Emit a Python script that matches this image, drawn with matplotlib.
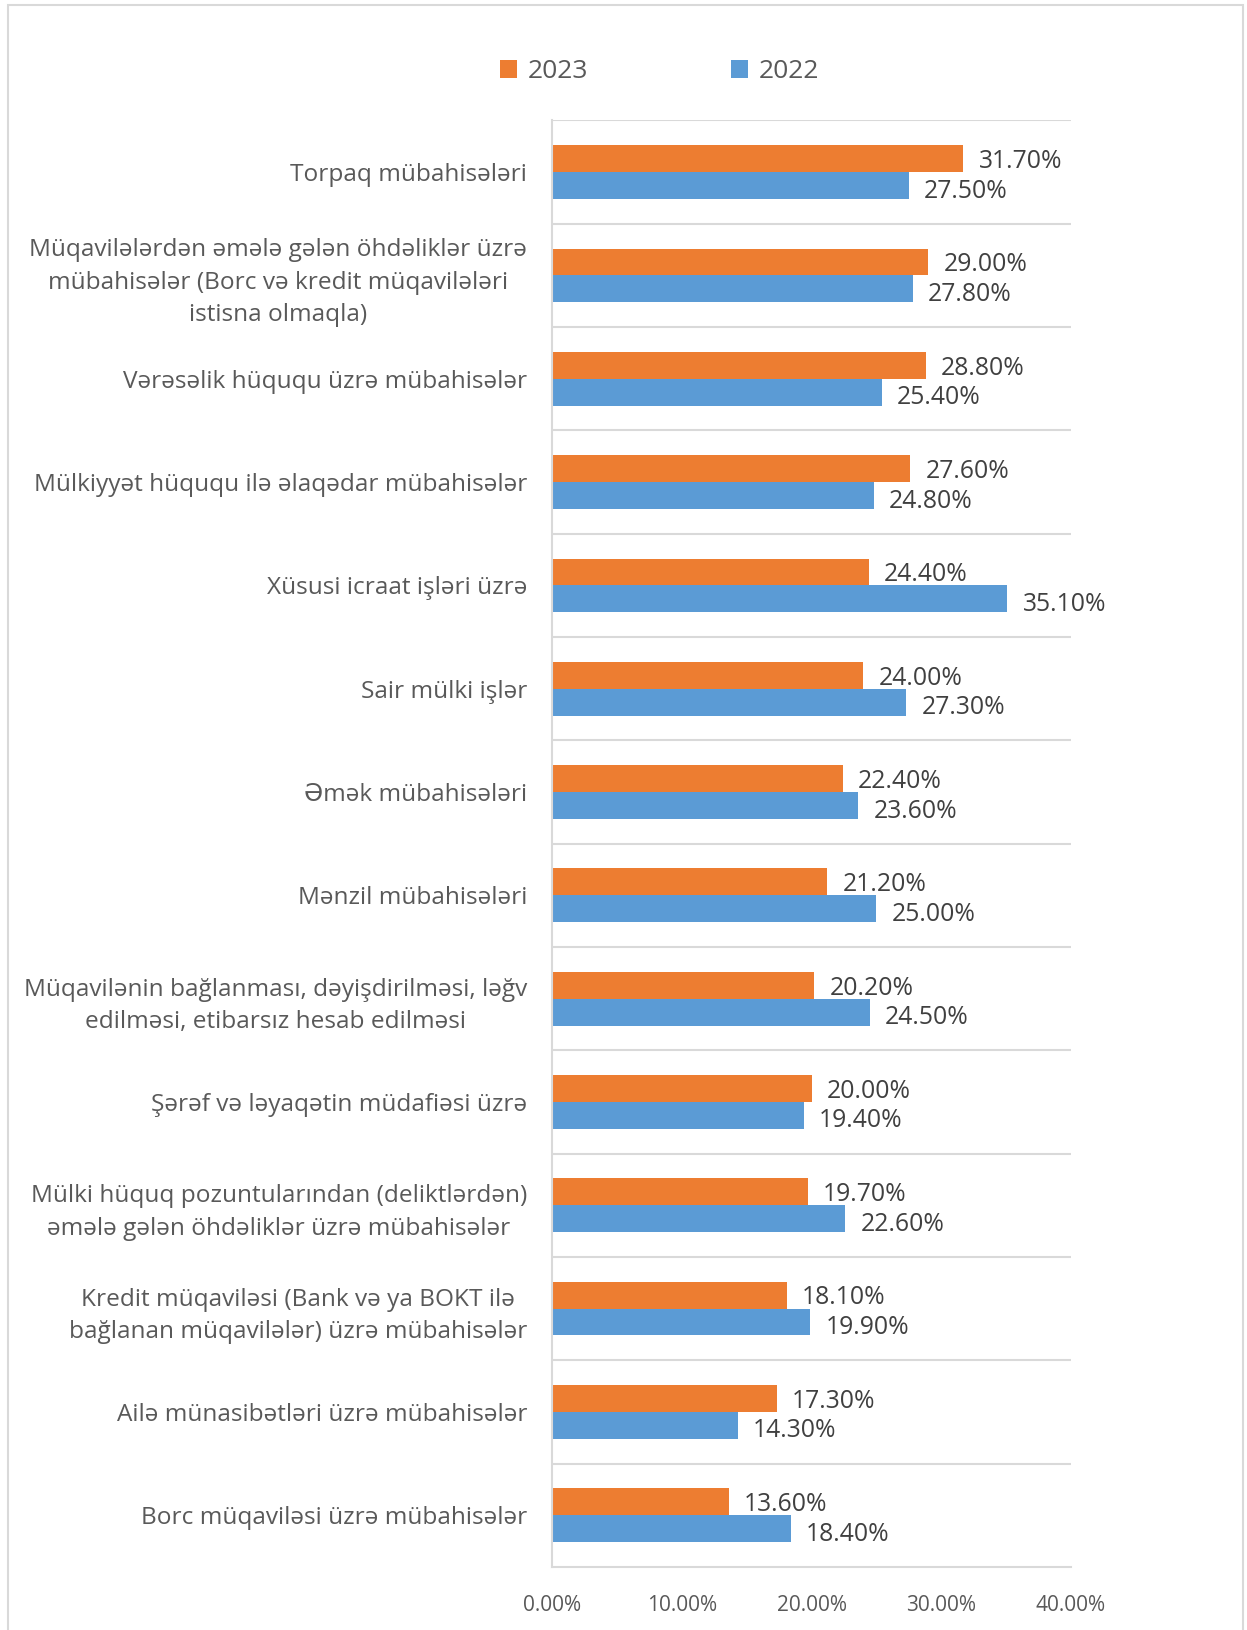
import matplotlib.pyplot as plt
from matplotlib.patches import Rectangle
from matplotlib.ticker import FuncFormatter

plt.rcParams['font.family'] = ['Open Sans', 'DejaVu Sans']

# Categories, top to bottom
categories = [
    'Torpaq mübahisələri',
    'Müqavilələrdən əmələ gələn öhdəliklər üzrə\nmübahisələr (Borc və kredit müqavilələri\nistisna olmaqla)',
    'Vərəsəlik hüququ üzrə mübahisələr',
    'Mülkiyyət hüququ ilə əlaqədar mübahisələr',
    'Xüsusi icraat işləri üzrə',
    'Sair mülki işlər',
    'Əmək mübahisələri',
    'Mənzil mübahisələri',
    'Müqavilənin bağlanması, dəyişdirilməsi, ləğv\nedilməsi, etibarsız hesab edilməsi',
    'Şərəf və ləyaqətin müdafiəsi üzrə',
    'Mülki hüquq pozuntularından (deliktlərdən)\nəmələ gələn öhdəliklər üzrə mübahisələr',
    'Kredit müqaviləsi (Bank və ya BOKT ilə\nbağlanan müqavilələr) üzrə mübahisələr',
    'Ailə münasibətləri üzrə mübahisələr',
    'Borc müqaviləsi üzrə mübahisələr',
]
values_2023 = [31.7, 29.0, 28.8, 27.6, 24.4, 24.0, 22.4, 21.2, 20.2, 20.0, 19.7, 18.1, 17.3, 13.6]
values_2022 = [27.5, 27.8, 25.4, 24.8, 35.1, 27.3, 23.6, 25.0, 24.5, 19.4, 22.6, 19.9, 14.3, 18.4]
x_ticks = [0, 10, 20, 30, 40]

orange = '#ED7D31'
blue = '#5B9BD5'
text_col = '#595959'
grid_col = '#D9D9D9'

fig = plt.figure(figsize=(12.47, 16.30), dpi=100)
ax = fig.add_axes([0.4427, 0.0387, 0.4162, 0.8874])

pos = list(range(len(categories)))
h = 0.26
b1 = ax.barh([p - h / 2 for p in pos], values_2023, height=h, color=orange, label='2023')
b2 = ax.barh([p + h / 2 for p in pos], values_2022, height=h, color=blue, label='2022')

for rect, v in zip(b1, values_2023):
    ax.annotate(f'{v:.2f}%', (rect.get_width(), rect.get_y() + rect.get_height() / 2),
                xytext=(11, -2), textcoords='offset points', va='center', ha='left',
                fontsize=17.8, color='#404040')
for rect, v in zip(b2, values_2022):
    ax.annotate(f'{v:.2f}%', (rect.get_width(), rect.get_y() + rect.get_height() / 2),
                xytext=(11, -4), textcoords='offset points', va='center', ha='left',
                fontsize=17.8, color='#404040')

ax.set_ylim(len(categories) - 0.5, -0.5)
ax.set_xlim(0, 40)
ax.set_yticks(pos)
ax.set_yticklabels(categories, fontsize=17.6, color=text_col, multialignment='center')
for lbl in ax.get_yticklabels():
    lbl.set_linespacing(1.47)
ax.set_xticks(x_ticks)
ax.xaxis.set_major_formatter(FuncFormatter(lambda v, _: f'{v:.2f}%'))
ax.tick_params(axis='x', length=0, pad=20, labelsize=15, labelcolor=text_col)
ax.tick_params(axis='y', length=0, pad=18)

# separators between categories
ax.set_yticks([p - 0.5 for p in pos], minor=True)
ax.tick_params(axis='y', which='minor', length=0)
ax.grid(axis='y', which='minor', color=grid_col, linewidth=1.5)
ax.set_axisbelow(True)

for s in ['top', 'right']:
    ax.spines[s].set_visible(False)
for s in ['left', 'bottom']:
    ax.spines[s].set_color(grid_col)
    ax.spines[s].set_linewidth(1.5)

fig.legend(handles=[b1, b2], labels=['2023', '2022'], loc='center', bbox_to_anchor=(0.529, 0.956),
           ncol=2, frameon=False, fontsize=19, handlelength=0.65, handleheight=0.65,
           handletextpad=0.4, columnspacing=5.4, labelcolor=text_col)

fig.patches.append(Rectangle((0.0064, -0.01), 0.9904, 1.007, transform=fig.transFigure,
                             fill=False, edgecolor=grid_col, linewidth=1.5))

fig.savefig('out.png', dpi=100)
